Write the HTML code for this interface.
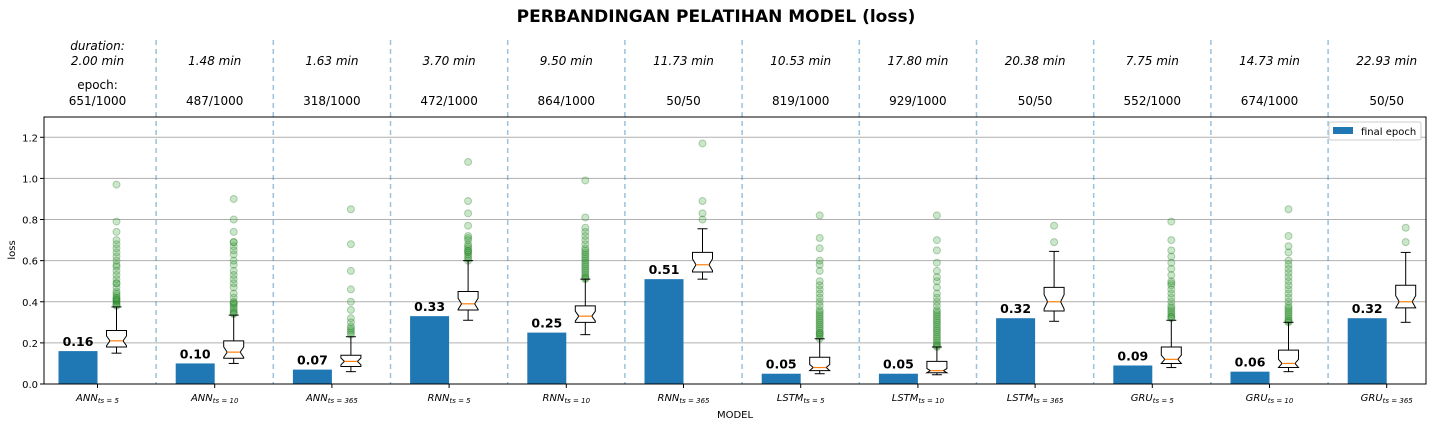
<!DOCTYPE html>
<html><head><meta charset="utf-8"><style>
body{margin:0;background:#fff;}
svg{display:block;font-family:"DejaVu Sans","Liberation Sans",sans-serif;}
</style></head><body>
<svg id="c" width="1432" height="426"></svg>
<script>
const categories=["ANN","ANN","ANN","RNN","RNN","RNN","LSTM","LSTM","LSTM","GRU","GRU","GRU"];
const timesteps=["5","10","365","5","10","365","5","10","365","5","10","365"];
const durations=["2.00 min","1.48 min","1.63 min","3.70 min","9.50 min","11.73 min","10.53 min","17.80 min","20.38 min","7.75 min","14.73 min","22.93 min"];
const epochs=["651/1000","487/1000","318/1000","472/1000","864/1000","50/50","819/1000","929/1000","50/50","552/1000","674/1000","50/50"];
const finalLoss=[0.16,0.10,0.07,0.33,0.25,0.51,0.05,0.05,0.32,0.09,0.06,0.32];
const whiskerLow=[0.15,0.10,0.06,0.31,0.24,0.51,0.05,0.045,0.305,0.08,0.06,0.30];
const q1=[0.18,0.125,0.085,0.36,0.30,0.545,0.065,0.055,0.355,0.10,0.08,0.37];
const median=[0.21,0.155,0.11,0.39,0.33,0.58,0.08,0.065,0.40,0.12,0.10,0.40];
const q3=[0.26,0.21,0.14,0.45,0.38,0.64,0.13,0.11,0.47,0.18,0.165,0.48];
const whiskerHigh=[0.375,0.335,0.23,0.60,0.51,0.755,0.22,0.18,0.645,0.31,0.30,0.64];
const fliers=[
[0.38,0.385,0.39,0.40,0.405,0.41,0.415,0.42,0.43,0.44,0.45,0.47,0.49,0.49,0.51,0.53,0.55,0.57,0.58,0.60,0.62,0.64,0.66,0.68,0.70,0.74,0.79,0.97],
[0.34,0.345,0.35,0.36,0.37,0.38,0.39,0.395,0.40,0.42,0.44,0.47,0.49,0.51,0.53,0.55,0.58,0.60,0.63,0.65,0.67,0.69,0.69,0.74,0.80,0.90],
[0.24,0.25,0.26,0.27,0.28,0.30,0.32,0.36,0.40,0.46,0.55,0.68,0.85],
[0.60,0.61,0.62,0.63,0.64,0.645,0.65,0.66,0.67,0.68,0.70,0.71,0.72,0.77,0.83,0.89,1.08],
[0.51,0.515,0.52,0.53,0.54,0.55,0.56,0.57,0.58,0.59,0.60,0.61,0.62,0.63,0.64,0.65,0.66,0.68,0.70,0.72,0.74,0.76,0.81,0.99],
[0.80,0.83,0.89,1.17],
[0.22,0.23,0.24,0.245,0.25,0.26,0.27,0.28,0.29,0.30,0.31,0.32,0.33,0.34,0.35,0.36,0.38,0.40,0.42,0.44,0.46,0.48,0.50,0.55,0.58,0.60,0.66,0.71,0.82],
[0.18,0.185,0.19,0.20,0.21,0.22,0.23,0.24,0.25,0.26,0.27,0.28,0.29,0.30,0.31,0.32,0.33,0.34,0.35,0.36,0.38,0.40,0.42,0.44,0.47,0.50,0.52,0.55,0.59,0.65,0.70,0.82],
[0.69,0.77],
[0.32,0.325,0.33,0.34,0.35,0.36,0.37,0.38,0.40,0.42,0.44,0.46,0.48,0.49,0.50,0.53,0.56,0.59,0.62,0.65,0.70,0.79],
[0.30,0.305,0.31,0.32,0.33,0.34,0.35,0.36,0.37,0.38,0.40,0.42,0.44,0.46,0.48,0.50,0.52,0.54,0.56,0.58,0.60,0.64,0.67,0.72,0.85],
[0.69,0.76]];
const yTicks=[0.0,0.2,0.4,0.6,0.8,1.0,1.2];
const yTickLabels=["0.0","0.2","0.4","0.6","0.8","1.0","1.2"];

const NS="http://www.w3.org/2000/svg";
const svg=document.getElementById('c');
const L=44,R=1426,T=117,B=384;
function yS(v){return B-v*205.6;}
function xS(i){return 97.5+117.2*i;}
function mk(tag,attrs,parent){const e=document.createElementNS(NS,tag);for(const k in attrs)e.setAttribute(k,attrs[k]);(parent||svg).appendChild(e);return e;}
function txt(s,attrs,parent){const e=mk('text',attrs,parent);e.textContent=s;return e;}

const t=txt("PERBANDINGAN PELATIHAN MODEL (loss)",{x:716,y:22,'text-anchor':'middle','font-size':17,'font-weight':'bold'});



mk('rect',{x:L,y:T,width:R-L,height:B-T,fill:'#fff'});
yTicks.forEach((v,k)=>{
 const g=mk('line',{x1:L,x2:R,y1:yS(v),y2:yS(v),stroke:'#b0b0b0','stroke-width':1});
 
 
 mk('line',{x1:L-4,x2:L,y1:yS(v),y2:yS(v),stroke:'#000'});
 const l=txt(yTickLabels[k],{x:L-6,y:yS(v)+4,'text-anchor':'end','font-size':10});
 
 
});

for(let i=0;i<categories.length;i++){
 const cx=xS(i);
 if(i>0){
  const d=mk('line',{x1:cx-58.6,x2:cx-58.6,y1:40,y2:B,stroke:'#1f77b4','stroke-opacity':0.45,'stroke-width':1.5,'stroke-dasharray':'5,4'});
  
  
 }
 if(i===0){
  txt("duration:",{x:cx,y:50,'text-anchor':'middle','font-size':12,'font-style':'italic'});
  txt("epoch:",{x:cx,y:89,'text-anchor':'middle','font-size':12});
 }
 const du=txt(durations[i],{x:cx,y:65,'text-anchor':'middle','font-size':12,'font-style':'italic'});
 
 
 const ep=txt(epochs[i],{x:cx,y:105,'text-anchor':'middle','font-size':12});
 
 

 const bar=mk('rect',{x:cx-39,y:yS(finalLoss[i]),width:39,height:yS(0)-yS(finalLoss[i]),fill:'#1f77b4'});
 
 
 const bl=txt(finalLoss[i].toFixed(2),{x:cx-19.5,y:yS(finalLoss[i])-5,'text-anchor':'middle','font-size':12.5,'font-weight':'bold'});
 
 

 const bx=cx+19,hw=10,cw=5;
 fliers[i].forEach(v=>{
  const f=mk('circle',{cx:bx,cy:yS(v),r:3.5,fill:'#2ca02c','fill-opacity':0.25,stroke:'#1a6b1a','stroke-opacity':0.3});
  
  
 });
 mk('line',{x1:bx,x2:bx,y1:yS(whiskerLow[i]),y2:yS(q1[i]),stroke:'#000'});
 mk('line',{x1:bx,x2:bx,y1:yS(whiskerHigh[i]),y2:yS(q3[i]),stroke:'#000'});
 mk('line',{x1:bx-cw,x2:bx+cw,y1:yS(whiskerLow[i]),y2:yS(whiskerLow[i]),stroke:'#000'});
 mk('line',{x1:bx-cw,x2:bx+cw,y1:yS(whiskerHigh[i]),y2:yS(whiskerHigh[i]),stroke:'#000'});
 const iqr=q3[i]-q1[i];
 const n=Math.min(iqr*0.3,median[i]-q1[i],q3[i]-median[i]);
 const nl=median[i]-n,nh=median[i]+n,ni=6.5;
 const pts=[[bx-hw,yS(q1[i])],[bx+hw,yS(q1[i])],[bx+hw,yS(nl)],[bx+ni,yS(median[i])],[bx+hw,yS(nh)],[bx+hw,yS(q3[i])],[bx-hw,yS(q3[i])],[bx-hw,yS(nh)],[bx-ni,yS(median[i])],[bx-hw,yS(nl)]];
 const box=mk('polygon',{points:pts.map(p=>p.join(',')).join(' '),fill:'#fff',stroke:'#000'});
 
 
 mk('line',{x1:bx-ni,x2:bx+ni,y1:yS(median[i]),y2:yS(median[i]),stroke:'#ff7f0e','stroke-width':1.2});

 mk('line',{x1:cx,x2:cx,y1:B,y2:B+4,stroke:'#000'});
 const xl=mk('text',{x:cx,y:401,'text-anchor':'middle','font-size':10,'font-style':'italic'});
 
 
 xl.textContent=categories[i];
 const sub=mk('tspan',{'font-size':7,dy:2},xl);
 sub.textContent="ts = "+timesteps[i];
}

mk('rect',{x:L,y:T,width:R-L,height:B-T,fill:'none',stroke:'#000','stroke-width':1});
const xt=txt("MODEL",{x:735,y:418,'text-anchor':'middle','font-size':10});


const yt=txt("loss",{x:0,y:0,'text-anchor':'middle','font-size':10,transform:'translate(15,250) rotate(-90)'});



const lg=mk('g',{});


mk('rect',{x:1329,y:122,width:92,height:18,rx:2,fill:'#fff',stroke:'#ccc'},lg);
const le=mk('rect',{x:1333,y:127,width:20,height:7,fill:'#1f77b4'},lg);


txt("final epoch",{x:1361,y:135,'font-size':10},lg);
</script>
</body></html>
